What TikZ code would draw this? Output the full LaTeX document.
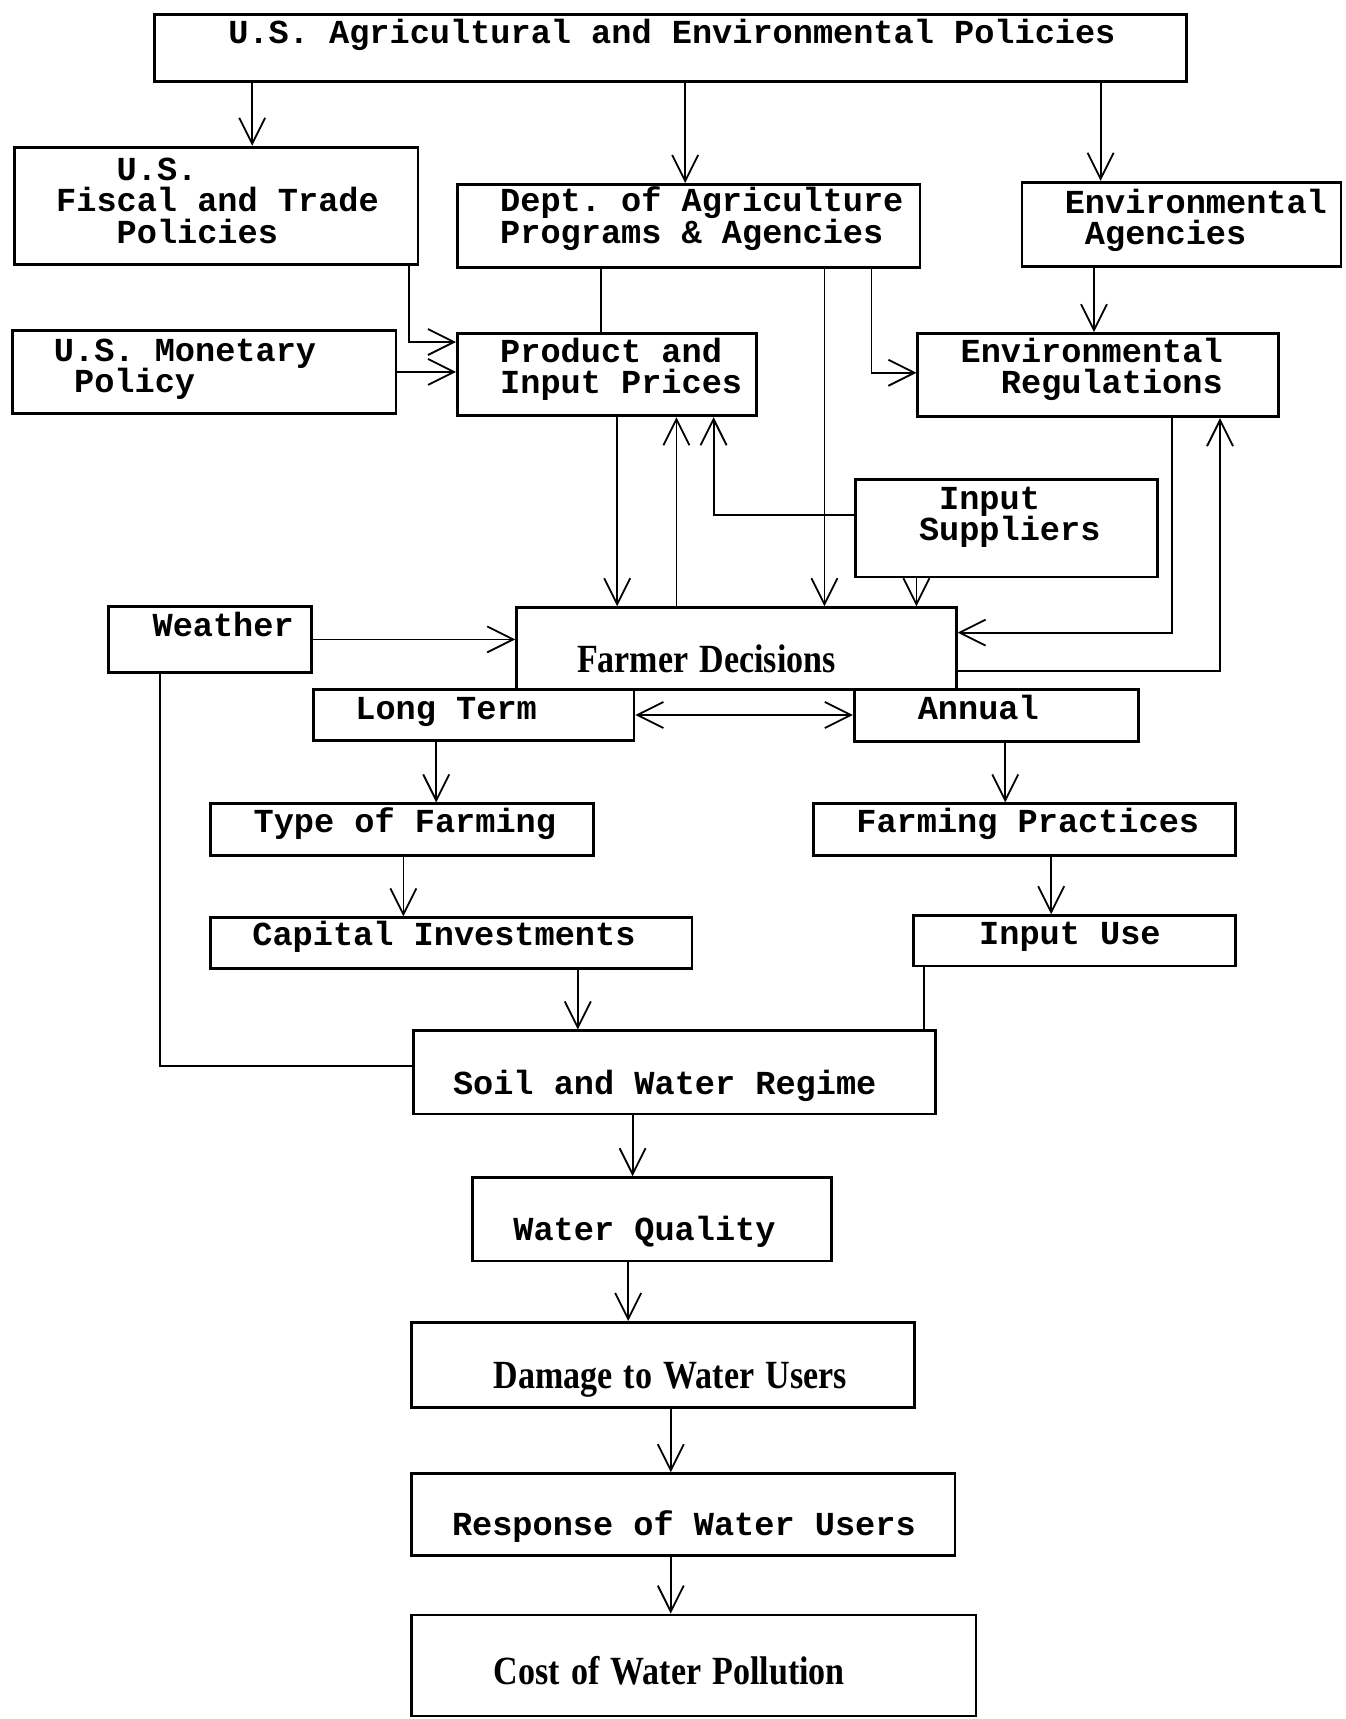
\documentclass[tikz,border=0pt]{standalone}
\usepackage{graphicx}
\usepackage{fontspec}
\setmainfont{Liberation Serif}
\setmonofont{Liberation Mono}
\usetikzlibrary{arrows.meta}

\begin{document}
\begin{tikzpicture}[x=1pt,y=-1pt,
  box/.style={draw,line width=1.4pt,anchor=north west,inner sep=0pt,align=left,
    font=\ttfamily\bfseries\fontsize{16.8pt}{15.9pt}\selectfont},
  pad/.style={execute at begin node={\leftskip=#1\relax\spaceskip=10.08pt\xspaceskip=10.08pt\relax}},
  serif/.style={font=\rmfamily\bfseries\fontsize{20pt}{20pt}\selectfont,
    execute at begin node={\leftskip=#1\relax}},
  conn/.style={line width=0.9pt},
  arr/.style={conn,-{Straight Barb[length=13pt,width=13pt]}},
  arrs/.style={conn,{Straight Barb[length=13pt,width=13pt]}-{Straight Barb[length=13pt,width=13pt]}}]
  \useasboundingbox (0,0) rectangle (672.5,859.5);

  % policy level
  \node[box,pad=36.8pt,text width=515.8pt,text height=14.2pt,text depth=19.2pt] (policies) at (76.7,6.6)
    {U.S. Agricultural and Environmental Policies};
  \node[box,pad=20.8pt,text width=201.7pt,text height=16.4pt,text depth=42.2pt] (fiscal) at (6.6,72.9)
    {\phantom{xxx}U.S.\\Fiscal and Trade\\\phantom{xxx}Policies};
  \node[box,pad=21.4pt,text width=231.3pt,text height=13.7pt,text depth=28.0pt] (dept) at (228.0,91.5)
    {Dept. of Agriculture\\Programs \& Agencies};
  \node[box,pad=21.4pt,text width=159.5pt,text height=15.4pt,text depth=26.8pt] (envag) at (510.3,90.4)
    {Environmental\\\phantom{x}Agencies};
  \node[box,pad=20.8pt,text width=191.8pt,text height=15.4pt,text depth=26.3pt] (monetary) at (5.5,164.4)
    {U.S. Monetary\\\phantom{x}Policy};
  \node[box,pad=21.4pt,text width=149.6pt,text height=14.2pt,text depth=26.9pt] (prices) at (228.0,166.1)
    {Product and\\Input Prices};
  \node[box,pad=21.4pt,text width=180.3pt,text height=14.2pt,text depth=27.4pt] (envreg) at (458.2,166.1)
    {Environmental\\\phantom{xx}Regulations};
  \node[box,pad=31.8pt,text width=151.2pt,text height=14.8pt,text depth=34.0pt] (suppliers) at (427.0,239.0)
    {\phantom{x}Input\\Suppliers};

  % farm level
  \node[box,pad=21.9pt,text width=101.4pt,text height=14.7pt,text depth=18.1pt] (weather) at (53.7,302.6)
    {Weather};
  \node[box,serif=30.2pt,text width=219.8pt,text height=32.3pt,text depth=8.8pt] (farmer) at (257.6,303.1)
    {\scalebox{0.85}[1]{Farmer Decisions}};
  \node[box,pad=20.8pt,text width=160.1pt,text height=14.8pt,text depth=10.4pt] (longterm) at (156.2,344.2)
    {Long Term};
  \node[box,pad=31.8pt,text width=142.0pt,text height=14.8pt,text depth=11.0pt] (annual) at (426.4,344.2)
    {Annual};
  \node[box,pad=21.4pt,text width=191.3pt,text height=14.3pt,text depth=11.5pt] (type) at (104.7,401.2)
    {Type of Farming};
  \node[box,pad=21.4pt,text width=211.1pt,text height=14.3pt,text depth=11.5pt] (practices) at (406.1,401.2)
    {Farming Practices};
  \node[box,pad=20.8pt,text width=240.6pt,text height=13.7pt,text depth=11.5pt] (capital) at (104.7,458.2)
    {Capital Investments};
  \node[box,pad=32.9pt,text width=161.2pt,text height=14.3pt,text depth=10.9pt] (inputuse) at (456.0,457.1)
    {Input Use};

  % water level
  \node[box,pad=19.7pt,text width=260.9pt,text height=31.8pt,text depth=9.8pt] (soil) at (206.1,514.7)
    {Soil and Water Regime};
  \node[box,pad=20.3pt,text width=179.2pt,text height=31.3pt,text depth=10.4pt] (quality) at (235.7,588.1)
    {Water Quality};
  \node[box,serif=41.1pt,text width=251.6pt,text height=32.8pt,text depth=9.9pt] (damage) at (205.0,660.5)
    {\scalebox{0.85}[1]{Damage to Water Users}};
  \node[box,pad=20.3pt,text width=271.8pt,text height=30.7pt,text depth=10.4pt] (response) at (205.0,736.1)
    {Response of Water Users};
  \node[box,serif=41.1pt,text width=282.3pt,text height=34.5pt,text depth=16.0pt] (cost) at (205.0,806.8)
    {\scalebox{0.85}[1]{Cost of Water Pollution}};

  % connectors
  \draw[arr] (126.1,0 |- policies.south) -- (126.1,0 |- fiscal.north);
  \draw[arr] (342.6,0 |- policies.south) -- (342.6,0 |- dept.north);
  \draw[arr] (550.3,0 |- policies.south) -- (550.3,0 |- envag.north);
  \draw[arr] (204.4,0 |- fiscal.south) |- (prices.west |- 0,171.0);
  \draw[arr] (monetary.east) -- (monetary.east -| prices.west);
  \draw[conn] (300.4,0 |- dept.south) -- (300.4,0 |- prices.north);
  \draw[arr] (412.2,0 |- dept.south) -- (412.2,0 |- farmer.north);
  \draw[arr] (435.7,0 |- dept.south) |- (envreg.west |- 0,186.4);
  \draw[arr] (547.0,0 |- envag.south) -- (547.0,0 |- envreg.north);
  \draw[arr] (308.6,0 |- prices.south) -- (308.6,0 |- farmer.north);
  \draw[arr] (338.2,0 |- farmer.north) -- (338.2,0 |- prices.south);
  \draw[arr] (suppliers.west |- 0,257.6) -| (356.8,0 |- prices.south);
  \draw[arr] (458.2,0 |- suppliers.south) -- (458.2,0 |- farmer.north);
  \draw[arr] (585.9,0 |- envreg.south) |- (farmer.east |- 0,316.3);
  \draw[arr] (farmer.east |- 0,335.4) -| (610.0,0 |- envreg.south);
  \draw[arr] (weather.east) -- (weather.east -| farmer.west);
  \draw[arrs] (longterm.east) -- (longterm.east -| annual.west);
  \draw[conn] (80.0,0 |- weather.south) |- (soil.west |- 0,532.8);
  \draw[arr] (218.1,0 |- longterm.south) -- (218.1,0 |- type.north);
  \draw[arr] (502.6,0 |- annual.south) -- (502.6,0 |- practices.north);
  \draw[arr] (201.7,0 |- type.south) -- (201.7,0 |- capital.north);
  \draw[arr] (525.6,0 |- practices.south) -- (525.6,0 |- inputuse.north);
  \draw[arr] (288.9,0 |- capital.south) -- (288.9,0 |- soil.north);
  \draw[conn] (462.0,0 |- inputuse.south) -- (462.0,0 |- soil.north);
  \draw[arr] (316.3,0 |- soil.south) -- (316.3,0 |- quality.north);
  \draw[arr] (314.1,0 |- quality.south) -- (314.1,0 |- damage.north);
  \draw[arr] (335.4,0 |- damage.south) -- (335.4,0 |- response.north);
  \draw[arr] (335.4,0 |- response.south) -- (335.4,0 |- cost.north);
\end{tikzpicture}
\end{document}
